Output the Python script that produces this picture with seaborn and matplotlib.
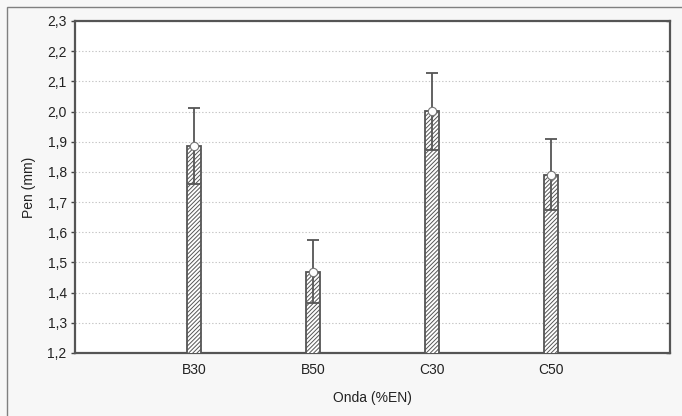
import matplotlib
matplotlib.use("Agg")
import matplotlib.pyplot as plt
import matplotlib.patches as mpatches
import numpy as np
import pandas as pd
import seaborn as sns

# Mean penetration per wave type, with standard error
categories = ["B30", "B50", "C30", "C50"]
means = [1.886, 1.470, 2.001, 1.791]
errors = [0.126, 0.105, 0.128, 0.117]
y_ticks = [1.2, 1.3, 1.4, 1.5, 1.6, 1.7, 1.8, 1.9, 2.0, 2.1, 2.2, 2.3]

df = pd.DataFrame({"Onda": categories, "Pen": means, "SE": errors})

sns.set_theme(style="white")
plt.rcParams["font.family"] = ["Liberation Sans", "DejaVu Sans"]
plt.rcParams["hatch.color"] = "#5a5a5a"
plt.rcParams["hatch.linewidth"] = 0.7

fig = plt.figure(figsize=(6.82, 4.16), dpi=100, facecolor="#f7f7f7")
ax = fig.add_axes([75 / 682, 1 - 353 / 416, (670 - 75) / 682, (353 - 21) / 416])
ax.set_facecolor("white")

# Outer frame of the figure panel
fig.patches.append(mpatches.Rectangle((7 / 682, -0.05), 1.1, 1 - 7 / 416 + 0.05,
                                      transform=fig.transFigure, fill=False,
                                      edgecolor="#808080", linewidth=1.0, zorder=0))

ax.set_axisbelow(True)
ax.grid(True, which="major", axis="both", color="#c4c4c4", linestyle=(0, (1.2, 1.8)),
        linewidth=0.8)

sns.barplot(data=df, x="Onda", y="Pen", ax=ax, width=0.11, color="white",
            edgecolor="#555555", linewidth=1.3, hatch="////////", errorbar=None,
            zorder=3)

x = np.arange(len(categories))
ax.errorbar(x, df["Pen"], yerr=df["SE"], fmt="none", ecolor="#555555",
            elinewidth=1.3, capsize=4, capthick=1.3, zorder=4)
ax.plot(x, df["Pen"], linestyle="none", marker="o", markersize=6,
        markerfacecolor="white", markeredgecolor="#777777", markeredgewidth=0.8,
        zorder=5)

ax.set_xlim(-1, 4)
ax.set_ylim(1.2, 2.3)
ax.set_yticks(y_ticks)
ax.set_yticklabels([f"{v:.1f}".replace(".", ",") for v in y_ticks])

for side in ["left", "right", "top", "bottom"]:
    ax.spines[side].set_visible(True)
    ax.spines[side].set_color("#555555")
    ax.spines[side].set_linewidth(1.6)

ax.tick_params(axis="y", which="both", left=True, direction="out",
               length=3, width=1, color="#444444", labelsize=10, labelcolor="#222222",
               pad=3)
ax.tick_params(axis="x", bottom=True, direction="in", length=3, width=1,
               color="#444444", labelsize=10, labelcolor="#222222", pad=7)

# Small inward ticks along the right edge
ax_r = ax.secondary_yaxis("right")
ax_r.set_yticks(y_ticks)
ax_r.tick_params(direction="in", length=3, width=1, color="#444444", labelright=False)
ax_r.spines["right"].set_visible(False)

ax.set_xlabel("Onda (%EN)", fontsize=10, color="#222222", labelpad=10)
ax.set_ylabel("Pen (mm)", fontsize=10, color="#222222", labelpad=8)

fig.savefig("out.png", dpi=100, facecolor=fig.get_facecolor())
